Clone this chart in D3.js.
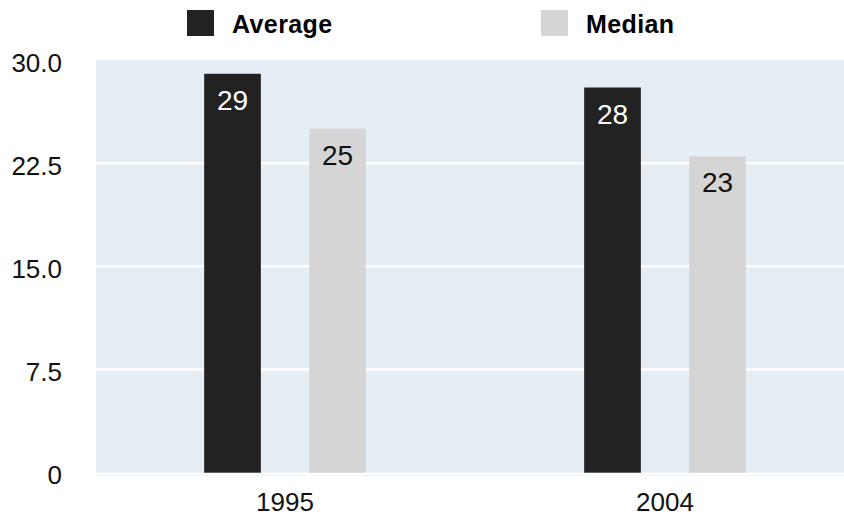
<!DOCTYPE html>
<html>
<head>
<meta charset="utf-8">
<script src="https://cdn.jsdelivr.net/npm/d3@7"></script>
<style>
  html, body { margin: 0; padding: 0; background: #fff; }
  svg { display: block; font-family: "Liberation Sans", Arial, Helvetica, sans-serif; }
</style>
</head>
<body>
<svg id="chart" width="844" height="514"></svg>
<script>
// Chart data
const years = ["1995", "2004"];
const seriesNames = ["Average", "Median"];
const averageValues = [29, 28];
const medianValues = [25, 23];
const yTicks = [0, 7.5, 15, 22.5, 30];
const yTickLabels = ["0", "7.5", "15.0", "22.5", "30.0"];

const colors = { Average: "#222222", Median: "#d5d5d5" };
const bgColor = "#e6eef5";

const svg = d3.select("#chart");
const plot = { left: 96, top: 60, right: 844, bottom: 472.7 };

const rows = years.map((yr, i) => ({
  year: yr,
  values: [
    { key: "Average", value: averageValues[i] },
    { key: "Median", value: medianValues[i] }
  ]
}));

const x0 = d3.scaleBand().domain(years).range([95, 855]).padding(0);
const x1 = d3.scaleBand().domain(seriesNames).range([0, x0.bandwidth()])
  .paddingInner(0.46).paddingOuter(1.04);
const y = d3.scaleLinear().domain([0, 30]).range([plot.bottom, plot.top]);

// Plot background
svg.append("rect")
  .attr("x", plot.left).attr("y", plot.top)
  .attr("width", plot.right - plot.left).attr("height", plot.bottom - plot.top)
  .attr("fill", bgColor);

// Faint baseline under the plot area
svg.append("line")
  .attr("x1", plot.left).attr("x2", plot.right)
  .attr("y1", plot.bottom + 2.5).attr("y2", plot.bottom + 2.5)
  .attr("stroke", "#eef3f8").attr("stroke-width", 1);

// Horizontal gridlines
svg.append("g").selectAll("line")
  .data(yTicks.filter(t => t > 0 && t < 30))
  .join("line")
  .attr("x1", plot.left).attr("x2", plot.right)
  .attr("y1", d => y(d)).attr("y2", d => y(d))
  .attr("stroke", "#ffffff").attr("stroke-width", 2.5);

// Y axis labels
const yAxis = d3.axisLeft(y).tickValues(yTicks)
  .tickFormat((d, i) => yTickLabels[i]).tickSize(0).tickPadding(0);
const gy = svg.append("g").attr("transform", "translate(62,2)").call(yAxis);
gy.select(".domain").remove();
gy.selectAll("text")
  .attr("fill", "#111").style("font-size", "26px")
  .attr("dy", "0.35em");

// X axis labels
const xAxis = d3.axisBottom(x0).tickSize(0).tickPadding(0);
const gx = svg.append("g").attr("transform", "translate(0,492)").call(xAxis);
gx.select(".domain").remove();
gx.selectAll("text")
  .attr("fill", "#111").style("font-size", "26px")
  .attr("dy", "0.72em");

// Bars
const groups = svg.append("g").selectAll("g")
  .data(rows).join("g")
  .attr("transform", d => `translate(${x0(d.year)},0)`);

groups.selectAll("rect")
  .data(d => d.values).join("rect")
  .attr("x", d => x1(d.key))
  .attr("width", x1.bandwidth())
  .attr("y", d => y(d.value))
  .attr("height", d => y(0) - y(d.value))
  .attr("fill", d => colors[d.key]);

// Value labels inside bar tops
groups.selectAll("text.val")
  .data(d => d.values).join("text")
  .attr("class", "val")
  .attr("x", d => x1(d.key) + x1.bandwidth() / 2)
  .attr("y", d => y(d.value) + 36)
  .attr("text-anchor", "middle")
  .attr("fill", d => d.key === "Average" ? "#ffffff" : "#111111")
  .style("font-size", "28px")
  .text(d => d.value);

// Legend
const legendPos = { Average: 187, Median: 541 };
const legend = svg.append("g").selectAll("g")
  .data(seriesNames).join("g")
  .attr("transform", d => `translate(${legendPos[d]},10)`);
legend.append("rect")
  .attr("width", 27).attr("height", 26)
  .attr("fill", d => colors[d]);
legend.append("text")
  .attr("x", 45).attr("y", 22.5)
  .attr("fill", "#000")
  .style("font-size", "25px").style("font-weight", "bold")
  .style("letter-spacing", "0.4px")
  .text(d => d);
</script>
</body>
</html>
